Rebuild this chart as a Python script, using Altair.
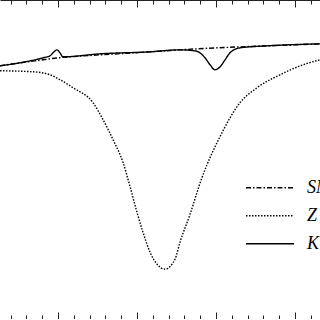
import altair as alt
import pandas as pd

# series (x in axis units, y in arbitrary units, no labels on the original)
labels = ["SM", "Z", "K"]

x_s = [0.266, 0.519, 0.81, 1.0, 1.152, 1.532, 2.165, 2.544, 3.0, 3.304, 3.646, 4.316]
y_s = [254, 257, 260, 262, 263, 265, 268, 270, 272, 273, 274, 276]

x_z = [0.266, 0.684, 0.899, 1.025, 1.19, 1.443, 1.57, 1.696, 1.823, 1.911, 2.0, 2.076,
       2.165, 2.253, 2.354, 2.481, 2.544, 2.671, 2.823, 3.051, 3.304, 3.519, 3.81, 4.101, 4.316]
y_z = [249, 248, 245, 240, 232, 217, 200, 180, 157, 133, 107, 87,
       67, 55, 50, 60, 77, 105, 142, 183, 217, 232, 245, 255, 260]

x_k = [0.266, 0.519, 0.81, 0.899, 0.937, 0.987, 1.025, 1.063, 1.532, 2.165, 2.544, 2.734,
       2.797, 2.861, 2.924, 2.987, 3.051, 3.114, 3.177, 3.304, 3.646, 4.316]
y_k = [254, 257, 262, 264, 267, 270, 267, 263, 266, 268, 270, 269,
       267, 262, 255, 250, 253, 260, 267, 272, 274, 276]

major_ticks = [1, 2, 3, 4]
minor_ticks = [0.4, 0.6, 0.8, 1.2, 1.4, 1.6, 1.8, 2.2, 2.4, 2.6, 2.8,
               3.2, 3.4, 3.6, 3.8, 4.2]
tick_values = sorted(major_ticks + minor_ticks)

rows = []
for name, xs, ys in [(labels[0], x_s, y_s), (labels[1], x_z, y_z), (labels[2], x_k, y_k)]:
    for i, (a, b) in enumerate(zip(xs, ys)):
        rows.append({"series": name, "x": a, "y": b, "order": i})
df = pd.DataFrame(rows)

H = 319
tick_cond = {"condition": {"test": "abs(datum.value - round(datum.value)) < 1e-6", "value": 7}, "value": 4}

x_scale = alt.Scale(domain=[0.266, 4.316], nice=False, zero=False)
y_scale = alt.Scale(domain=[0, 320], nice=False, zero=False)

base = alt.Chart(df)

lines = base.mark_line(interpolate="monotone", strokeWidth=1.4, color="black").encode(
    x=alt.X("x:Q", scale=x_scale,
            axis=alt.Axis(orient="bottom", offset=-H, values=tick_values, labels=False,
                          title=None, grid=False, tickSize=tick_cond, tickColor="#222",
                          domainColor="#222", tickWidth=1)),
    y=alt.Y("y:Q", scale=y_scale, axis=None),
    strokeDash=alt.StrokeDash(
        "series:N",
        scale=alt.Scale(domain=labels, range=[[5, 2, 1.5, 2], [1.5, 1.5], [1, 0]]),
        legend=alt.Legend(orient="none", legendX=245, legendY=174, title=None,
                          symbolType="stroke", symbolSize=2304, symbolStrokeWidth=1.4,
                          symbolStrokeColor="black", labelFont="Liberation Serif",
                          labelFontStyle="italic", labelFontSize=18, labelColor="black",
                          labelOffset=12, rowPadding=0, clipHeight=27.5, padding=0),
    ),
    order="order:Q",
)

top_axis_layer = base.mark_line(opacity=0).encode(
    x=alt.X("x:Q", scale=x_scale,
            axis=alt.Axis(orient="top", offset=-H, values=tick_values, labels=False,
                          title=None, grid=False, tickSize=tick_cond, tickColor="#222",
                          domainColor="#222", tickWidth=1)),
    y=alt.Y("y:Q", scale=y_scale, axis=None),
    detail="series:N",
    order="order:Q",
)

chart = alt.layer(lines, top_axis_layer).resolve_axis(x="independent").properties(
    width=320, height=H, padding=0, autosize=alt.AutoSizeParams(type="none")
).configure_view(strokeWidth=0)

chart.save("out.html", embed_options={"renderer": "svg", "actions": False})
